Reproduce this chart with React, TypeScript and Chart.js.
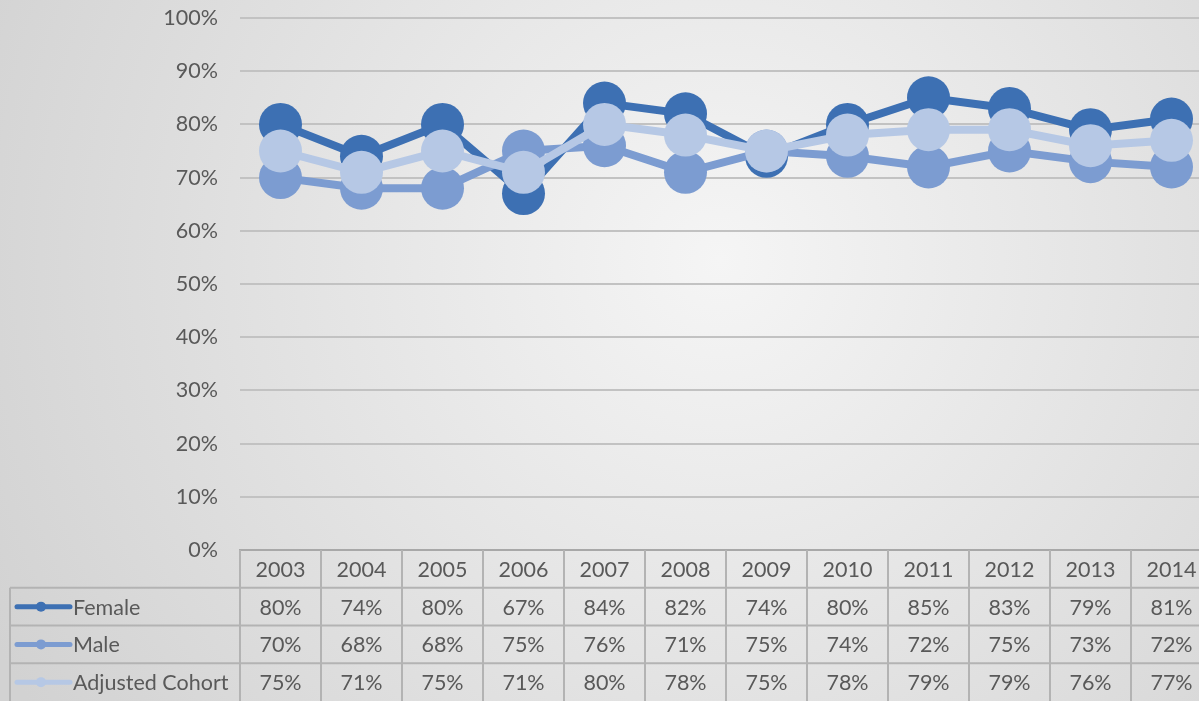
import React, { useEffect, useRef } from "react";
import { Chart, registerables } from "chart.js";

Chart.register(...registerables);

const categories = ["2003", "2004", "2005", "2006", "2007", "2008", "2009", "2010", "2011", "2012", "2013", "2014"];
const female = [80, 74, 80, 67, 84, 82, 74, 80, 85, 83, 79, 81];
const male = [70, 68, 68, 75, 76, 71, 75, 74, 72, 75, 73, 72];
const adjusted = [75, 71, 75, 71, 80, 78, 75, 78, 79, 79, 76, 77];
const seriesNames = ["Female", "Male", "Adjusted Cohort"];
const seriesColors = ["#3d70b3", "#7c9cd1", "#b6c8e5"];

const FONT = "Lato, 'Open Sans', sans-serif";
const TEXT = "#595959";
const LINE = "#b3b3b3";
const FS = 21.5;

const bgPlugin = {
  id: "bg",
  beforeDraw(chart: any) {
    const { ctx, width, height } = chart;
    ctx.save();
    const g = ctx.createRadialGradient(720, 260, 0, 720, 260, 820);
    g.addColorStop(0, "#f5f5f5");
    g.addColorStop(1, "#d2d2d2");
    ctx.fillStyle = g;
    ctx.fillRect(0, 0, width, height);
    ctx.restore();
  },
};

const tablePlugin = {
  id: "dataTable",
  afterDraw(chart: any) {
    const { ctx, chartArea, height } = chart;
    const x = chart.scales.x;
    const top = chartArea.bottom;
    const rowH = (height - top) / 4;
    const colW = x.getPixelForValue(1) - x.getPixelForValue(0);
    const left = 10;
    const values = [female, male, adjusted];
    ctx.save();
    ctx.strokeStyle = LINE;
    ctx.lineWidth = 2;
    for (let i = 0; i <= categories.length; i++) {
      const px = x.getPixelForValue(0) - colW / 2 + i * colW;
      ctx.beginPath();
      ctx.moveTo(px, top);
      ctx.lineTo(px, height);
      ctx.stroke();
    }
    ctx.beginPath();
    ctx.moveTo(left, top + rowH);
    ctx.lineTo(left, height);
    ctx.stroke();
    for (let r = 1; r <= 3; r++) {
      const py = top + r * rowH;
      ctx.beginPath();
      ctx.moveTo(left, py);
      ctx.lineTo(chart.width, py);
      ctx.stroke();
    }
    ctx.fillStyle = TEXT;
    ctx.font = `${FS}px ${FONT}`;
    ctx.textAlign = "center";
    ctx.textBaseline = "middle";
    categories.forEach((c, i) => {
      ctx.fillText(c, x.getPixelForValue(i), top + rowH / 2 + 1);
    });
    values.forEach((arr, r) => {
      const cy = top + (r + 1.5) * rowH + 1;
      arr.forEach((v, i) => {
        ctx.fillText(`${v}%`, x.getPixelForValue(i), cy);
      });
      ctx.strokeStyle = seriesColors[r];
      ctx.lineWidth = 5;
      ctx.lineCap = "round";
      ctx.beginPath();
      ctx.moveTo(17, cy - 1);
      ctx.lineTo(70, cy - 1);
      ctx.stroke();
      ctx.fillStyle = seriesColors[r];
      ctx.beginPath();
      ctx.arc(41, cy - 1, 5, 0, Math.PI * 2);
      ctx.fill();
      ctx.fillStyle = TEXT;
      ctx.textAlign = "left";
      ctx.fillText(seriesNames[r], 73, cy);
      ctx.textAlign = "center";
    });
    ctx.restore();
  },
};

export default function App() {
  const ref = useRef<HTMLCanvasElement | null>(null);
  useEffect(() => {
    document.body.style.margin = "0";
    const mk = (data: number[], i: number, order: number) => ({
      label: seriesNames[i],
      data,
      borderColor: seriesColors[i],
      backgroundColor: seriesColors[i],
      pointBackgroundColor: seriesColors[i],
      pointBorderWidth: 0,
      pointRadius: 21.5,
      pointHoverRadius: 21.5,
      borderWidth: 8,
      tension: 0,
      order,
      clip: false as any,
    });
    const chart = new Chart(ref.current as HTMLCanvasElement, {
      type: "line",
      data: {
        labels: categories,
        datasets: [mk(female, 0, 3), mk(male, 1, 2), mk(adjusted, 2, 1)],
      },
      options: {
        animation: false,
        responsive: false,
        devicePixelRatio: 1,
        layout: { autoPadding: false, padding: { top: 18, left: 0, right: 0, bottom: 0 } },
        plugins: { legend: { display: false }, tooltip: { enabled: false } },
        events: [],
        scales: {
          x: {
            type: "category",
            offset: true,
            grid: { display: false },
            border: { display: true, color: "#a8a8a8", width: 2 },
            ticks: { display: false },
            afterFit(scale: any) {
              scale.height = 151;
              scale.paddingLeft = 0;
              scale.paddingRight = 0;
            },
          },
          y: {
            min: 0,
            max: 100,
            ticks: {
              stepSize: 10,
              padding: 22,
              color: TEXT,
              font: { family: FONT, size: FS },
              callback: (v: any) => `${v}%`,
            },
            grid: { color: "#c2c2c2", lineWidth: 2, drawTicks: false },
            border: { display: false },
            afterFit(scale: any) {
              scale.width = 240;
              scale.paddingTop = 0;
              scale.paddingBottom = 0;
            },
          },
        },
      },
      plugins: [bgPlugin, tablePlugin],
    });
    return () => chart.destroy();
  }, []);
  return (
    <div style={{ position: "fixed", left: 0, top: 0, width: 1199, height: 701, overflow: "hidden" }}>
      <canvas ref={ref} width={1212} height={701} style={{ display: "block" }} />
    </div>
  );
}
